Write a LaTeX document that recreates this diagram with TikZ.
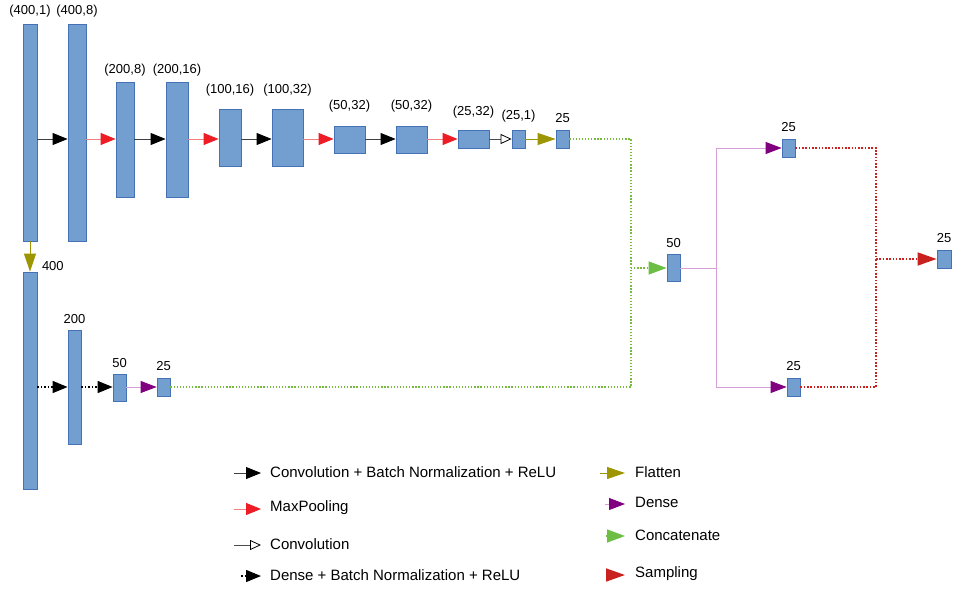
\documentclass[tikz,border=0pt]{standalone}
\usepackage{fontspec}
\setmainfont{Liberation Sans}
\usetikzlibrary{arrows.meta}
\definecolor{blkfill}{RGB}{114,159,207}
\definecolor{blkdraw}{RGB}{68,114,180}
\definecolor{poolline}{RGB}{240,128,128}
\definecolor{pooltip}{RGB}{238,28,37}
\definecolor{olive}{RGB}{158,150,0}
\definecolor{denseline}{RGB}{214,160,214}
\definecolor{densetip}{RGB}{128,0,128}
\definecolor{catline}{RGB}{119,188,63}
\definecolor{cattip}{RGB}{108,190,69}
\definecolor{sampred}{RGB}{201,33,30}
\tikzset{
  blk/.style={draw=blkdraw, fill=blkfill, line width=0.8pt, inner sep=0pt},
  lbl/.style={font=\fontsize{13}{15}\selectfont, inner sep=0pt, label distance=6pt},
  lgd/.style={font=\fontsize{15}{18}\selectfont, inner sep=0pt, anchor=west},
  conv/.style={draw=black!75, line width=0.8pt, -{Triangle[length=15pt,width=12pt,color=black]}},
  pool/.style={draw=poolline, line width=0.9pt, -{Triangle[length=15pt,width=12pt,color=pooltip]}},
  convonly/.style={draw=black!70, line width=0.8pt, -{Triangle[open,length=11pt,width=10pt,color=black,fill=white]}},
  densebn/.style={draw=black, line width=1.4pt, dash pattern=on 1.5pt off 2pt, -{Triangle[length=15pt,width=12pt,color=black]}},
  flat/.style={draw=olive, line width=1pt, -{Triangle[length=18pt,width=12pt,color=olive]}},
  dense/.style={draw=denseline, line width=0.9pt, -{Triangle[length=16pt,width=12pt,color=densetip]}},
  catdots/.style={draw=catline, line width=1.3pt, dash pattern=on 1.3pt off 1.8pt},
  concat/.style={catdots, -{Triangle[length=18pt,width=13pt,color=cattip]}},
  sampdots/.style={draw=sampred, line width=1.6pt, dash pattern=on 1.6pt off 1.7pt},
  samp/.style={sampdots, -{Triangle[length=19pt,width=13pt,color=sampred]}}
}
\begin{document}
\begin{tikzpicture}[x=1pt, y=-1pt]
  \useasboundingbox (0,0) rectangle (957,591);
  % convolutional branch
  \node[blk, minimum width=14pt, minimum height=217pt, label={[lbl]above:{(400,1)}}] (in1) at (30,132.5) {};
  \node[blk, minimum width=18pt, minimum height=217pt, label={[lbl]above:{(400,8)}}] (conv1) at (77,132.5) {};
  \node[blk, minimum width=18pt, minimum height=115pt, label={[lbl,label distance=5pt]above:{(200,8)}}] (pool1) at (125,139.5) {};
  \node[blk, minimum width=22pt, minimum height=115pt, label={[lbl,label distance=5pt]above:{(200,16)}}] (conv2) at (177,139.5) {};
  \node[blk, minimum width=22pt, minimum height=57pt, label={[lbl,label distance=12pt]above:{(100,16)}}] (pool2) at (230,137.5) {};
  \node[blk, minimum width=31pt, minimum height=57pt, label={[lbl,label distance=12pt]above:{(100,32)}}] (conv3) at (287.5,137.5) {};
  \node[blk, minimum width=31pt, minimum height=27pt, label={[lbl,label distance=13pt]above:{(50,32)}}] (pool3) at (349.5,139.5) {};
  \node[blk, minimum width=31pt, minimum height=27pt, label={[lbl,label distance=13pt]above:{(50,32)}}] (conv4) at (411.5,139.5) {};
  \node[blk, minimum width=31pt, minimum height=18pt, label={[lbl,label distance=11pt]above:{(25,32)}}] (pool4) at (473.5,139) {};
  \node[blk, minimum width=13pt, minimum height=18pt, label={[lbl,label distance=7pt]above:{(25,1)}}] (conv5) at (518.5,139) {};
  \node[blk, minimum width=13pt, minimum height=18pt, label={[lbl,label distance=7pt]above:25}] (flat1) at (562.5,139) {};
  % dense branch
  \node[blk, minimum width=14pt, minimum height=217pt, label={[lbl,anchor=west,xshift=4pt]north east:400}] (flat2) at (30,380.5) {};
  \node[blk, minimum width=13pt, minimum height=114pt, label={[lbl]above:200}] (dense1) at (74.5,387) {};
  \node[blk, minimum width=13pt, minimum height=27pt, label={[lbl]above:50}] (dense2) at (119.5,387.5) {};
  \node[blk, minimum width=13pt, minimum height=18pt, label={[lbl,label distance=7pt]above:25}] (dense3) at (163.5,387) {};
  % latent part
  \node[blk, minimum width=13pt, minimum height=27pt, label={[lbl]above:50}] (cat) at (673.5,267.5) {};
  \node[blk, minimum width=13pt, minimum height=18pt, label={[lbl,label distance=7pt]above:25}] (mu) at (788.5,148) {};
  \node[blk, minimum width=13pt, minimum height=18pt, label={[lbl,label distance=7pt]above:25}] (sigma) at (793.5,387) {};
  \node[blk, minimum width=14pt, minimum height=18pt, label={[lbl,label distance=7pt]above:25}] (z) at (944,259) {};

  \coordinate (top) at (0,139);
  \coordinate (bot) at (0,387);
  \coordinate (join) at (631,268);
  \coordinate (split) at (716,268);
  \coordinate (merge) at (876,259);

  \draw[conv] (in1.east |- top) -- (conv1.west |- top);
  \draw[pool] (conv1.east |- top) -- (pool1.west |- top);
  \draw[conv] (pool1.east |- top) -- (conv2.west |- top);
  \draw[pool] (conv2.east |- top) -- (pool2.west |- top);
  \draw[conv] (pool2.east |- top) -- (conv3.west |- top);
  \draw[pool] (conv3.east |- top) -- (pool3.west |- top);
  \draw[conv] (pool3.east |- top) -- (conv4.west |- top);
  \draw[pool] (conv4.east |- top) -- (pool4.west |- top);
  \draw[convonly] (pool4.east) -- (conv5.west);
  \draw[flat] (conv5.east) -- (flat1.west);
  \draw[flat] (in1.south) -- (flat2.north);
  \draw[densebn] (flat2.east |- bot) -- (dense1.west |- bot);
  \draw[densebn] (dense1.east |- bot) -- (dense2.west |- bot);
  \draw[dense] (dense2.east |- bot) -- (dense3.west);

  \draw[catdots] (flat1.east) -| (join);
  \draw[catdots] (dense3.east) -| (join);
  \draw[concat] (join) -- (cat.west |- join);

  \draw[dense, -] (cat.east |- split) -- (split);
  \draw[dense] (split) |- (mu.west);
  \draw[dense] (split) |- (sigma.west);

  \draw[sampdots] (mu.east) -| (merge);
  \draw[sampdots] (sigma.east) -| (merge);
  \draw[samp] (merge) -- (z.west);

  % legend
  \node[lgd] (lg1) at (270,472) {Convolution + Batch Normalization + ReLU};
  \node[lgd] (lg2) at (270,508) {MaxPooling};
  \node[lgd] (lg3) at (270,544) {Convolution};
  \node[lgd] (lg4) at (270,575) {Dense + Batch Normalization + ReLU};
  \node[lgd] (lg5) at (635,472) {Flatten};
  \node[lgd] (lg6) at (635,502) {Dense};
  \node[lgd] (lg7) at (635,535) {Concatenate};
  \node[lgd] (lg8) at (635,574) {Sampling};

  \draw[conv] ([xshift=-36pt,yshift=-1pt]lg1.west) -- ([xshift=-9pt,yshift=-1pt]lg1.west);
  \draw[pool] ([xshift=-36pt,yshift=-1pt]lg2.west) -- ([xshift=-9pt,yshift=-1pt]lg2.west);
  \draw[convonly] ([xshift=-36pt,yshift=-1pt]lg3.west) -- ([xshift=-9pt,yshift=-1pt]lg3.west);
  \draw[densebn] ([xshift=-29pt,yshift=-1pt]lg4.west) -- ([xshift=-9pt,yshift=-1pt]lg4.west);
  \draw[flat] ([xshift=-35pt,yshift=-1pt]lg5.west) -- ([xshift=-10pt,yshift=-1pt]lg5.west);
  \draw[dense] ([xshift=-30pt,yshift=-2pt]lg6.west) -- ([xshift=-10pt,yshift=-2pt]lg6.west);
  \draw[concat] ([xshift=-29pt,yshift=-1pt]lg7.west) -- ([xshift=-10pt,yshift=-1pt]lg7.west);
  \draw[samp] ([xshift=-29pt,yshift=-1pt]lg8.west) -- ([xshift=-10pt,yshift=-1pt]lg8.west);
\end{tikzpicture}
\end{document}
